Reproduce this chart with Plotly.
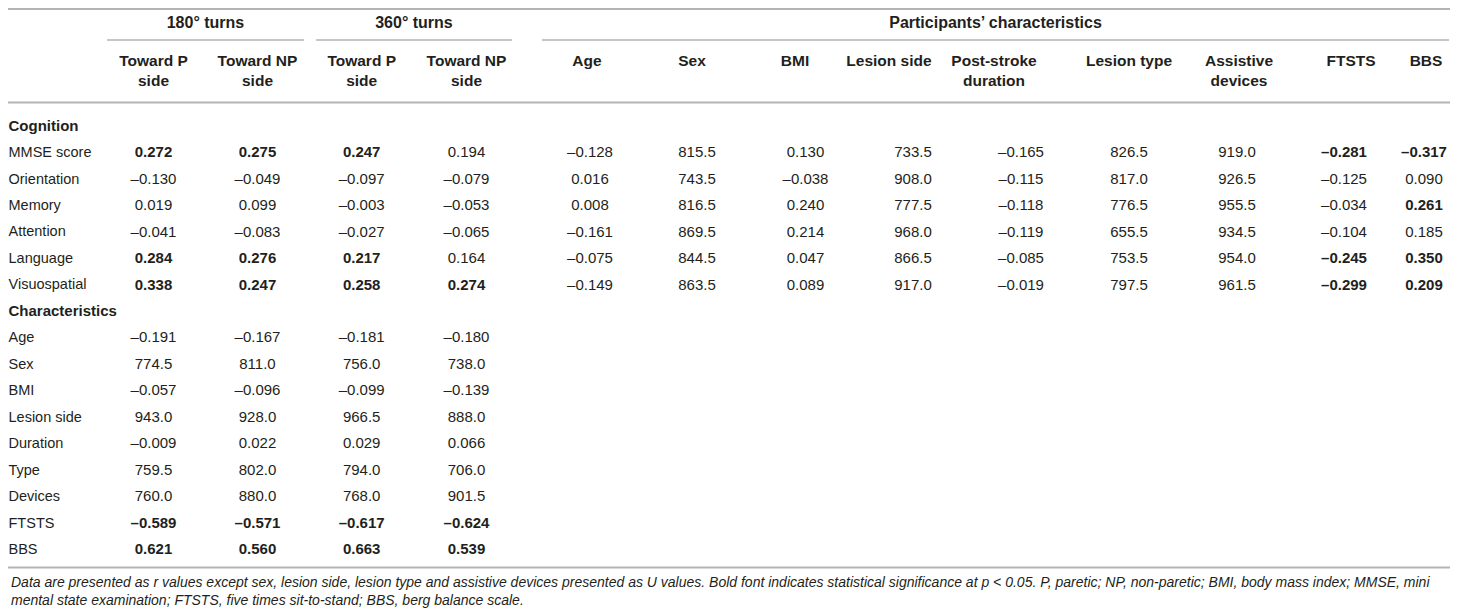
import plotly.graph_objects as go

# ---- table content ----
turn_groups = ["180° turns", "360° turns", "Participants’ characteristics"]
turn_cols = ["Toward P<br>side", "Toward NP<br>side", "Toward P<br>side", "Toward NP<br>side"]
char_cols = ["Age", "Sex", "BMI", "Lesion side", "Post-stroke<br>duration",
             "Lesion type", "Assistive<br>devices", "FTSTS", "BBS"]

cog_rows = ["MMSE score", "Orientation", "Memory", "Attention", "Language", "Visuospatial"]
char_rows = ["Age", "Sex", "BMI", "Lesion side", "Duration", "Type", "Devices", "FTSTS", "BBS"]

# cognition rows x turn columns
cog_turn = [
    [0.272, 0.275, 0.247, 0.194],
    [-0.130, -0.049, -0.097, -0.079],
    [0.019, 0.099, -0.003, -0.053],
    [-0.041, -0.083, -0.027, -0.065],
    [0.284, 0.276, 0.217, 0.164],
    [0.338, 0.247, 0.258, 0.274],
]
cog_turn_sig = [
    [1, 1, 1, 0],
    [0, 0, 0, 0],
    [0, 0, 0, 0],
    [0, 0, 0, 0],
    [1, 1, 1, 0],
    [1, 1, 1, 1],
]

# cognition rows x participants' characteristics
cog_char = [
    [-0.128, 815.5, 0.130, 733.5, -0.165, 826.5, 919.0, -0.281, -0.317],
    [0.016, 743.5, -0.038, 908.0, -0.115, 817.0, 926.5, -0.125, 0.090],
    [0.008, 816.5, 0.240, 777.5, -0.118, 776.5, 955.5, -0.034, 0.261],
    [-0.161, 869.5, 0.214, 968.0, -0.119, 655.5, 934.5, -0.104, 0.185],
    [-0.075, 844.5, 0.047, 866.5, -0.085, 753.5, 954.0, -0.245, 0.350],
    [-0.149, 863.5, 0.089, 917.0, -0.019, 797.5, 961.5, -0.299, 0.209],
]
cog_char_sig = [
    [0, 0, 0, 0, 0, 0, 0, 1, 1],
    [0, 0, 0, 0, 0, 0, 0, 0, 0],
    [0, 0, 0, 0, 0, 0, 0, 0, 1],
    [0, 0, 0, 0, 0, 0, 0, 0, 0],
    [0, 0, 0, 0, 0, 0, 0, 1, 1],
    [0, 0, 0, 0, 0, 0, 0, 1, 1],
]
u_cols = [1, 3, 5, 6]  # columns reported as U values

# characteristics rows x turn columns
char_turn = [
    [-0.191, -0.167, -0.181, -0.180],
    [774.5, 811.0, 756.0, 738.0],
    [-0.057, -0.096, -0.099, -0.139],
    [943.0, 928.0, 966.5, 888.0],
    [-0.009, 0.022, 0.029, 0.066],
    [759.5, 802.0, 794.0, 706.0],
    [760.0, 880.0, 768.0, 901.5],
    [-0.589, -0.571, -0.617, -0.624],
    [0.621, 0.560, 0.663, 0.539],
]
char_turn_sig = [[0] * 4] * 7 + [[1] * 4, [1] * 4]
u_rows = [1, 3, 5, 6]

footnote = ("Data are presented as <i>r</i> values except sex, lesion side, lesion type and assistive devices "
            "presented as U values. Bold font indicates statistical significance at <i>p</i> &lt; 0.05. P, paretic; "
            "NP, non-paretic; BMI, body mass index; MMSE, mini<br>mental state examination; FTSTS, five times "
            "sit-to-stand; BBS, berg balance scale.")

# ---- layout helpers (coordinates in reference pixels) ----
W, H = 1458, 616
PAD = 8  # page body margin, the figure starts at (8, 8)
FONT = "Liberation Sans, Arial, sans-serif"
INK = "#231f20"
RULE = "#b4b4b4"
LEFT = PAD + 0.5
RIGHT = W - PAD
turn_x = [153.5, 257.5, 361.7, 466.5]
char_x = [590, 697, 805.5, 913, 1021, 1129, 1237, 1344, 1424]
char_head_x = [587, 692, 795, 889, 994, 1129, 1239, 1351, 1426]
row0, row_h = 127, 26.46


def row_y(i):
    return row0 + i * row_h


def fmt(v, is_u):
    s = f"{v:.1f}" if is_u else f"{v:.3f}"
    return s.replace("-", "\u2013")


cells = {"x": [], "y": [], "t": [], "b": []}


def add_cell(x, y, txt, bold):
    cells["x"].append(x)
    cells["y"].append(y)
    cells["t"].append(txt)
    cells["b"].append(bold)


for i, row in enumerate(cog_turn):
    for j, v in enumerate(row):
        add_cell(turn_x[j], row_y(1 + i), fmt(v, False), cog_turn_sig[i][j])
for i, row in enumerate(cog_char):
    for j, v in enumerate(row):
        add_cell(char_x[j], row_y(1 + i), fmt(v, j in u_cols), cog_char_sig[i][j])
for i, row in enumerate(char_turn):
    for j, v in enumerate(row):
        add_cell(turn_x[j], row_y(8 + i), fmt(v, i in u_rows), char_turn_sig[i][j])

fig = go.Figure()

for bold in (0, 1):
    idx = [k for k, b in enumerate(cells["b"]) if b == bold]
    fig.add_trace(go.Scatter(
        x=[cells["x"][k] for k in idx], y=[cells["y"][k] for k in idx],
        text=[cells["t"][k] for k in idx], mode="text", textposition="middle center",
        textfont=dict(family=FONT, size=15, color=INK, weight="bold" if bold else "normal"),
        cliponaxis=False, hoverinfo="skip", showlegend=False))

# row labels
labels = ["Cognition"] + cog_rows + ["Characteristics"] + char_rows
label_bold = [1] + [0] * len(cog_rows) + [1] + [0] * len(char_rows)
for bold in (0, 1):
    idx = [k for k, b in enumerate(label_bold) if b == bold]
    fig.add_trace(go.Scatter(
        x=[LEFT] * len(idx), y=[row_y(k) for k in idx], text=[labels[k] for k in idx],
        mode="text", textposition="middle right",
        textfont=dict(family=FONT, size=15 if bold else 14.5, color=INK,
                      weight="bold" if bold else "normal"),
        cliponaxis=False, hoverinfo="skip", showlegend=False))

# column headers
head_x = turn_x + char_head_x
head_t = turn_cols + char_cols
head_y = [72 if "<br>" in t else 62 for t in head_t]
fig.add_trace(go.Scatter(
    x=head_x, y=head_y, text=head_t, mode="text", textposition="middle center",
    textfont=dict(family=FONT, size=15.5, color=INK, weight="bold"),
    cliponaxis=False, hoverinfo="skip", showlegend=False))

# group headers and their rules
group_span = [(107, 304), (316, 512), (542, RIGHT - 1)]
fig.add_trace(go.Scatter(
    x=[(a + b) / 2 for a, b in group_span], y=[24] * 3, text=turn_groups,
    mode="text", textposition="middle center",
    textfont=dict(family=FONT, size=16, color=INK, weight="bold"),
    cliponaxis=False, hoverinfo="skip", showlegend=False))
for a, b in group_span:
    fig.add_shape(type="line", x0=a, x1=b, y0=40, y1=40, line=dict(color=RULE, width=1.5))
for yy in (9, 102.5, 567.5):
    fig.add_shape(type="line", x0=PAD, x1=RIGHT, y0=yy, y1=yy, line=dict(color=RULE, width=2))

fig.add_annotation(x=LEFT, y=590.5, text=f"<i>{footnote}</i>", showarrow=False, xanchor="left",
                   yanchor="middle", align="left", xref="x", yref="y",
                   font=dict(family=FONT, size=14, color=INK))

fig.update_layout(
    width=W - 2 * PAD, height=H - 2 * PAD, margin=dict(l=0, r=0, t=0, b=0),
    paper_bgcolor="white", plot_bgcolor="white",
    xaxis=dict(range=[PAD, RIGHT], visible=False, fixedrange=True),
    yaxis=dict(range=[H - PAD, PAD], visible=False, fixedrange=True),
)

fig.write_html("out.html")
